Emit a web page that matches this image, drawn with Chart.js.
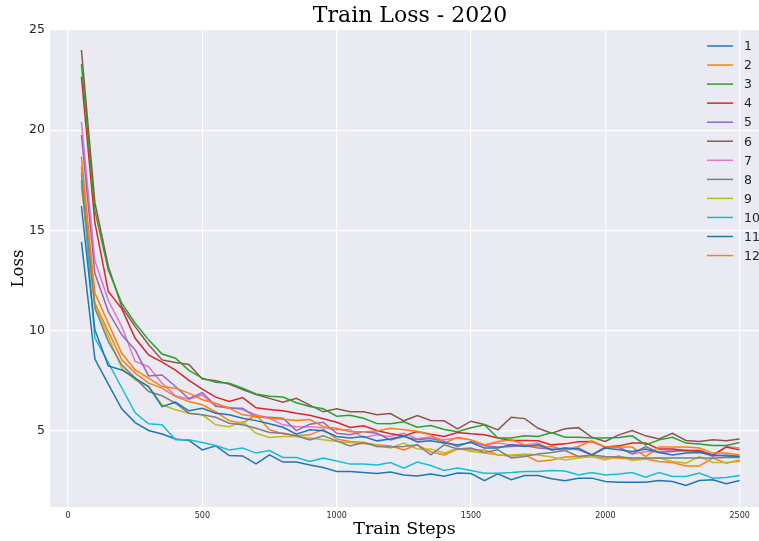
<!DOCTYPE html>
<html>
<head>
<meta charset="utf-8">
<title>Train Loss - 2020</title>
<script src="https://cdn.jsdelivr.net/npm/chart.js@4.4.1/dist/chart.umd.min.js"></script>
<style>
    html, body { margin: 0; padding: 0; background: #ffffff; }
    #lossChart { display: block; }
</style>
</head>
<body>
<canvas id="lossChart" width="759" height="541"></canvas>
<script>
// Train steps (x values)
const steps = [50, 100, 150, 200, 250, 300, 350, 400, 450, 500,
    550, 600, 650, 700, 750, 800, 850, 900, 950, 1000,
    1050, 1100, 1150, 1200, 1250, 1300, 1350, 1400, 1450, 1500,
    1550, 1600, 1650, 1700, 1750, 1800, 1850, 1900, 1950, 2000,
    2050, 2100, 2150, 2200, 2250, 2300, 2350, 2400, 2450, 2500];

// Loss per run
const run1 = [16.22, 10.04, 8.24, 8.04, 7.63, 7.21, 6.21, 6.43, 6.0, 6.13,
    5.88, 5.8, 5.63, 5.51, 5.35, 5.18, 4.83, 5.05, 5.0, 4.72,
    4.64, 4.72, 4.5, 4.59, 4.75, 4.45, 4.5, 4.39, 4.3, 4.42,
    4.14, 4.14, 4.3, 4.22, 4.3, 4.05, 4.14, 4.09, 3.8, 4.14,
    4.05, 3.97, 4.09, 3.92, 3.8, 3.89, 3.92, 3.8, 3.75, 3.72];
const run2 = [18.68, 11.87, 10.37, 8.87, 8.04, 7.63, 7.21, 7.13, 6.88, 6.55,
    6.38, 6.13, 5.8, 5.71, 5.63, 5.58, 5.51, 5.56, 5.21, 5.13,
    4.96, 4.96, 4.99, 5.13, 5.05, 4.98, 4.8, 4.39, 4.68, 4.55,
    4.3, 4.47, 4.55, 4.3, 4.19, 4.22, 4.05, 4.22, 4.5, 4.19,
    4.19, 4.19, 3.72, 4.19, 4.19, 4.19, 4.14, 3.89, 3.89, 3.8];
const run3 = [23.3, 16.0, 13.03, 11.37, 10.37, 9.54, 8.83, 8.62, 8.02, 7.63,
    7.43, 7.38, 7.13, 6.84, 6.73, 6.69, 6.4, 6.21, 6.1, 5.73,
    5.78, 5.63, 5.36, 5.35, 5.45, 5.18, 5.26, 5.07, 4.96, 5.15,
    5.3, 4.64, 4.64, 4.75, 4.72, 4.92, 4.68, 4.68, 4.64, 4.64,
    4.67, 4.75, 4.3, 4.55, 4.68, 4.39, 4.34, 4.27, 4.27, 4.42];
const run4 = [22.67, 15.4, 11.95, 11.1, 9.62, 8.79, 8.43, 8.03, 7.52, 7.08,
    6.68, 6.46, 6.66, 6.15, 6.07, 6.0, 5.88, 5.78, 5.6, 5.43,
    5.17, 5.25, 5.02, 4.85, 4.75, 4.96, 4.83, 4.72, 4.92, 4.85,
    4.8, 4.64, 4.52, 4.52, 4.5, 4.3, 4.35, 4.45, 4.47, 4.19,
    4.25, 4.39, 4.39, 4.09, 4.09, 4.02, 4.02, 3.8, 4.19, 4.05];
const run5 = [19.76, 12.86, 10.95, 9.79, 9.04, 7.74, 7.79, 7.21, 6.6, 6.91,
    6.25, 6.13, 6.13, 5.68, 5.68, 5.63, 5.01, 5.33, 5.43, 4.88,
    4.8, 4.96, 4.88, 4.55, 4.72, 4.55, 4.62, 4.47, 4.22, 4.47,
    4.25, 4.19, 4.22, 4.27, 4.14, 4.09, 4.05, 4.14, 3.8, 4.19,
    4.19, 3.85, 4.22, 3.92, 3.97, 4.02, 3.97, 3.75, 3.8, 3.72];
const run6 = [24.0, 16.4, 13.2, 11.2, 10.2, 9.3, 8.54, 8.41, 8.31, 7.59,
    7.5, 7.34, 7.06, 6.81, 6.62, 6.43, 6.62, 6.28, 5.95, 6.1,
    5.95, 5.95, 5.8, 5.86, 5.5, 5.76, 5.52, 5.5, 5.1, 5.48,
    5.32, 5.05, 5.68, 5.61, 5.13, 4.88, 5.1, 5.16, 4.68, 4.47,
    4.8, 5.01, 4.75, 4.6, 4.88, 4.52, 4.47, 4.55, 4.5, 4.59];
const run7 = [20.4, 13.5, 11.5, 10.2, 8.46, 8.2, 7.38, 6.75, 6.58, 6.79,
    6.21, 6.18, 6.05, 5.8, 5.63, 5.3, 5.21, 5.21, 5.16, 5.05,
    5.05, 4.67, 4.8, 4.72, 4.88, 4.6, 4.7, 4.55, 4.64, 4.55,
    4.3, 4.39, 4.3, 4.3, 4.39, 4.05, 4.14, 4.05, 3.8, 4.19,
    4.14, 3.85, 3.97, 3.97, 4.02, 4.02, 3.97, 3.72, 4.22, 4.14];
const run8 = [17.5, 11.12, 9.45, 8.29, 7.63, 6.96, 6.75, 6.38, 5.88, 5.8,
    5.68, 5.38, 5.3, 5.13, 4.92, 4.88, 4.75, 4.55, 4.75, 4.5,
    4.25, 4.42, 4.22, 4.19, 4.22, 4.3, 3.8, 4.3, 4.09, 4.14,
    3.92, 4.05, 3.64, 3.72, 3.85, 3.92, 4.02, 3.72, 3.8, 3.72,
    3.69, 3.64, 3.64, 3.64, 3.64, 3.64, 3.64, 3.64, 3.67, 3.67];
const run9 = [17.2, 11.28, 9.7, 8.13, 7.54, 7.21, 6.3, 6.05, 5.88, 5.8,
    5.3, 5.21, 5.46, 4.88, 4.67, 4.72, 4.72, 4.64, 4.55, 4.47,
    4.42, 4.35, 4.3, 4.14, 4.39, 4.1, 4.1, 3.89, 4.14, 3.97,
    3.89, 3.8, 3.8, 3.85, 3.8, 3.69, 3.55, 3.64, 3.72, 3.55,
    3.75, 3.52, 3.59, 3.64, 3.47, 3.39, 3.72, 3.42, 3.42, 3.47];
const run10 = [17.88, 9.64, 8.4, 7.15, 5.9, 5.35, 5.3, 4.55, 4.55, 4.42,
    4.27, 4.05, 4.14, 3.89, 4.02, 3.67, 3.67, 3.47, 3.64, 3.5,
    3.34, 3.35, 3.3, 3.42, 3.14, 3.44, 3.27, 3.02, 3.14, 3.02,
    2.89, 2.89, 2.92, 2.97, 2.97, 3.02, 3.0, 2.8, 2.92, 2.8,
    2.85, 2.92, 2.69, 2.92, 2.72, 2.72, 2.89, 2.64, 2.67, 2.77];
const run11 = [14.43, 8.58, 7.33, 6.1, 5.41, 5.02, 4.84, 4.59, 4.52, 4.05,
    4.25, 3.77, 3.75, 3.35, 3.8, 3.44, 3.44, 3.3, 3.17, 2.97,
    2.97, 2.92, 2.87, 2.95, 2.8, 2.75, 2.85, 2.74, 2.9, 2.87,
    2.51, 2.85, 2.56, 2.77, 2.77, 2.61, 2.51, 2.64, 2.64, 2.47,
    2.44, 2.44, 2.44, 2.52, 2.47, 2.27, 2.52, 2.56, 2.36, 2.52];
const run12 = [18.2, 11.37, 9.95, 8.54, 7.88, 7.38, 7.13, 6.71, 6.46, 6.3,
    5.95, 5.51, 5.38, 5.8, 5.05, 4.85, 4.75, 4.8, 5.08, 4.59,
    4.47, 4.42, 4.3, 4.25, 4.05, 4.3, 3.95, 3.8, 4.09, 4.05,
    4.05, 3.8, 3.75, 3.8, 3.47, 3.55, 3.69, 3.72, 3.72, 3.64,
    3.64, 3.6, 3.59, 3.47, 3.42, 3.25, 3.25, 3.64, 3.39, 3.55];

const runs = [run1, run2, run3, run4, run5, run6, run7, run8, run9, run10, run11, run12];
const runNames = ['1', '2', '3', '4', '5', '6', '7', '8', '9', '10', '11', '12'];
const runColors = ['#1f77b4', '#ff7f0e', '#2ca02c', '#d62728', '#9467bd', '#8c564b',
    '#e377c2', '#7f7f7f', '#bcbd22', '#17becf', '#1f77b4', '#ff7f0e'];

// Tick labels
const xTickValues = [0, 500, 1000, 1500, 2000, 2500];
const yTickValues = [5, 10, 15, 20, 25];

const textColor = '#262626';

// Grey plot area like seaborn darkgrid
const plotBackground = {
    id: 'plotBackground',
    beforeDraw(chart) {
        const { ctx, chartArea } = chart;
        ctx.save();
        ctx.fillStyle = '#eaeaf2';
        ctx.fillRect(chartArea.left, chartArea.top,
            chartArea.right - chartArea.left, chartArea.bottom - chartArea.top);
        ctx.restore();
    }
};

// Title centred over the axes, legend inside the upper right corner
const titleAndLegend = {
    id: 'titleAndLegend',
    afterDraw(chart) {
        const ctx = chart.ctx;
        ctx.save();
        ctx.fillStyle = '#000000';
        ctx.font = '22px "DejaVu Serif"';
        ctx.textAlign = 'center';
        ctx.textBaseline = 'middle';
        ctx.fillText('Train Loss - 2020', 410, 16);

        ctx.font = '12.5px "DejaVu Sans"';
        ctx.textAlign = 'left';
        chart.data.datasets.forEach((ds, i) => {
            const y = 46 + i * 19.05;
            ctx.strokeStyle = ds.borderColor;
            ctx.lineWidth = 1.5;
            ctx.beginPath();
            ctx.moveTo(707, y);
            ctx.lineTo(733, y);
            ctx.stroke();
            ctx.fillStyle = textColor;
            ctx.fillText(ds.label, 744, y + 1);
        });
        ctx.restore();
    }
};

const datasets = runs.map((values, i) => ({
    label: runNames[i],
    data: values.map((v, j) => ({ x: steps[j], y: v })),
    borderColor: runColors[i],
    backgroundColor: runColors[i],
    borderWidth: 1.5,
    pointRadius: 0,
    tension: 0,
    fill: false
}));

const ctx = document.getElementById('lossChart').getContext('2d');
new Chart(ctx, {
    type: 'line',
    data: { datasets: datasets },
    options: {
        responsive: false,
        animation: false,
        layout: { padding: { top: 30, right: 0, bottom: 0, left: 0 } },
        plugins: {
            legend: { display: false },
            title: { display: false },
            tooltip: { enabled: false }
        },
        scales: {
            x: {
                type: 'linear',
                min: -67,
                max: 2572,
                afterBuildTicks: scale => { scale.ticks = xTickValues.map(v => ({ value: v })); },
                afterFit: scale => { scale.height = 34; },
                grid: { color: '#ffffff', lineWidth: 1.2, drawTicks: false },
                border: { display: false },
                ticks: {
                    padding: 4,
                    color: textColor,
                    font: { family: 'DejaVu Sans', size: 8 },
                    callback: value => String(value)
                },
                title: {
                    display: true,
                    text: 'Train Steps',
                    color: '#000000',
                    font: { family: 'DejaVu Serif', size: 17.5 },
                    padding: { top: 0, bottom: 1 }
                }
            },
            y: {
                min: 1.2,
                max: 25,
                afterBuildTicks: scale => { scale.ticks = yTickValues.map(v => ({ value: v })); },
                afterFit: scale => { scale.width = 50; },
                grid: { color: '#ffffff', lineWidth: 1.2, drawTicks: false },
                border: { display: false },
                ticks: {
                    padding: 5,
                    color: textColor,
                    font: { family: 'DejaVu Sans', size: 12.5 }
                },
                title: {
                    display: true,
                    text: 'Loss',
                    color: '#000000',
                    font: { family: 'DejaVu Serif', size: 16.5 },
                    padding: { top: 9, bottom: 0 }
                }
            }
        }
    },
    plugins: [plotBackground, titleAndLegend]
});
</script>
</body>
</html>
